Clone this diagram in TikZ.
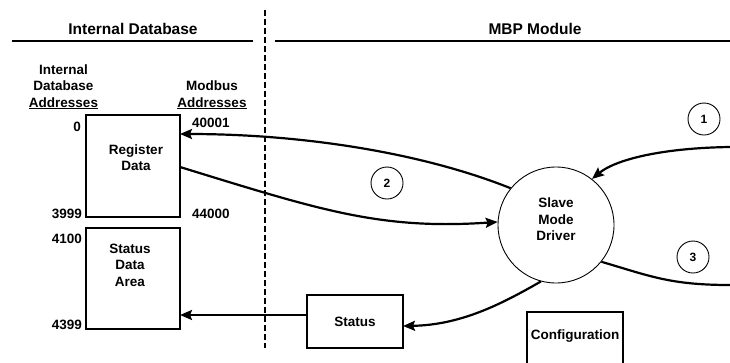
\documentclass[tikz,border=0pt]{standalone}
\usepackage{fontspec}
\setmainfont{Liberation Sans}
\usetikzlibrary{arrows.meta}
\begin{document}
\begin{tikzpicture}[x=1pt,y=-1pt,
  txt/.style={font=\bfseries\fontsize{13.5}{16.5}\selectfont, inner sep=0pt, align=center},
  hdr/.style={font=\bfseries\fontsize{15.5}{18}\selectfont, inner sep=0pt},
  box/.style={draw, line width=1.2pt, inner sep=0pt},
  num/.style={draw, circle, line width=0.9pt, minimum size=32pt, inner sep=0pt, font=\bfseries\fontsize{12}{14}\selectfont},
  flow/.style={line width=2.2pt},
  arr/.style={flow, -{Stealth[length=12pt,width=10pt,inset=2pt]}},
  rule/.style={line width=1.8pt},
]
\useasboundingbox (0,0) rectangle (730,362);
\fill[white] (0,0) rectangle (730,362);
\clip (0,0) rectangle (730,362);

% headers
\node[hdr, anchor=base] (hdb) at (133,34) {Internal Database};
\node[hdr, anchor=base] (hmbp) at (535,34) {MBP Module};
\coordinate (l1a) at (12,41); \coordinate (l1b) at (253,41);
\coordinate (l2a) at (275,41); \coordinate (l2b) at (730,41);
\draw[rule] (l1a) -- (l1b);
\draw[rule] (l2a) -- (l2b);
\coordinate (dv1) at (265,10); \coordinate (dv2) at (265,348);
\draw[line width=1.3pt, dash pattern=on 6pt off 3pt] (dv1) -- (dv2);

% column labels
\node[txt, anchor=base] (ida) at (63.5,107) {Internal\\Database\\\underline{Addresses}};
\node[txt, anchor=base] (mba) at (212,107) {Modbus\\\underline{Addresses}};

% database boxes
\node[box, minimum width=94pt, minimum height=102pt] (reg) at (133,166) {};
\node[txt, anchor=base] (regt) at (136,170.7) {Register\\Data};
\node[box, minimum width=94pt, minimum height=101pt] (sda) at (133,278.5) {};
\node[txt, anchor=base] (sdat) at (130,286) {Status\\Data\\Area};

% addresses
\node[txt, anchor=base east] (n0) at (81,131) {0};
\node[txt, anchor=base east] (n3999) at (82,218) {3999};
\node[txt, anchor=base east] (n4100) at (82,243) {4100};
\node[txt, anchor=base east] (n4399) at (82,329) {4399};
\node[txt, anchor=base west] (n40001) at (192,127) {40001};
\node[txt, anchor=base west] (n44000) at (192,218) {44000};

% driver
\node[draw, circle, line width=0.9pt, minimum size=116pt, inner sep=0pt] (drv) at (556,225) {};
\node[txt, anchor=base] (drvt) at (556,240.7) {Slave\\Mode\\Driver};

% status box
\node[box, txt, minimum width=96pt, minimum height=53pt] (st) at (355,321.5) {Status};

% configuration box (cut off at bottom)
\coordinate (cf1) at (527,370); \coordinate (cf2) at (527,312);
\coordinate (cf3) at (623,312); \coordinate (cf4) at (623,370);
\draw[line width=1.2pt] (cf1) -- (cf2) -- (cf3) -- (cf4);
\node[txt, anchor=base] (cfg) at (575,339) {Configuration};

% circled numbers
\node[num] (c1) at (704,119) {1};
\node[num] (c2) at (387,183) {2};
\node[num] (c3) at (693,257) {3};

% connector points
\coordinate (e1) at (730,147);
\coordinate (e3) at (730,285);
\coordinate (r1) at (180,134);
\coordinate (r2) at (180,167);
\coordinate (s1) at (180,315);
\coordinate (st1) at (307,315);
\coordinate (st2) at (403,326);

% flows
\draw[arr] (e1) .. controls (660,148) and (615,160) .. (drv.52);
\draw[arr] (drv.141) .. controls (420,152) and (300,134) .. (r1);
\draw[arr] (r2) .. controls (320,210) and (380,230) .. (drv.177);
\draw[arr] (drv.255) .. controls (500,305) and (460,325) .. (st2);
\draw[arr] (st1) -- (s1);
\draw[flow] (drv.321) .. controls (650,276) and (670,285) .. (e3);
\end{tikzpicture}
\end{document}
